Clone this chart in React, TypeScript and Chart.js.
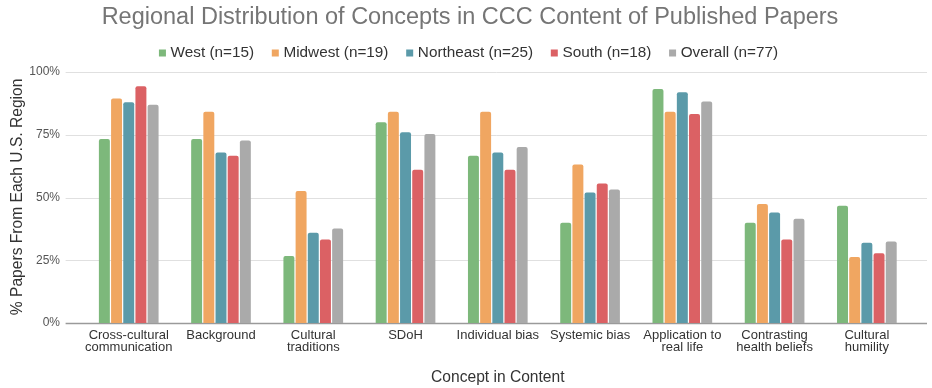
import React, { useEffect, useRef } from "react";
import { Chart, registerables } from "chart.js";

Chart.register(...registerables);

const categories: (string | string[])[] = [
  ["Cross-cultural", "communication"],
  "Background",
  ["Cultural", "traditions"],
  "SDoH",
  "Individual bias",
  "Systemic bias",
  ["Application to", "real life"],
  ["Contrasting", "health beliefs"],
  ["Cultural", "humility"],
];

const west = [73.3, 73.3, 26.7, 80.0, 66.7, 40.0, 93.3, 40.0, 46.7];
const midwest = [89.5, 84.2, 52.6, 84.2, 84.2, 63.2, 84.2, 47.4, 26.3];
const northeast = [88.0, 68.0, 36.0, 76.0, 68.0, 52.0, 92.0, 44.0, 32.0];
const south = [94.4, 66.7, 33.3, 61.1, 61.1, 55.6, 83.3, 33.3, 27.8];
const overall = [87.0, 72.7, 37.7, 75.3, 70.1, 53.2, 88.3, 41.6, 32.5];

const seriesNames = [
  "West (n=15)",
  "Midwest (n=19)",
  "Northeast (n=25)",
  "South (n=18)",
  "Overall (n=77)",
];
const yTicks = [0, 25, 50, 75, 100];

const colors = ["#7db87b", "#f0a661", "#5b9aa9", "#db6164", "#aaaaaa"];
const FONT = "'Liberation Sans', Arial, sans-serif";

const gridPlugin = {
  id: "extGrid",
  beforeDatasetsDraw(chart: any) {
    const { ctx, chartArea, scales } = chart;
    const y = scales.y;
    ctx.save();
    yTicks.forEach((v) => {
      const py = Math.round(y.getPixelForValue(v)) + 0.5;
      ctx.beginPath();
      ctx.strokeStyle = v === 0 ? "#9a9a9a" : "#e0e0e0";
      ctx.lineWidth = v === 0 ? 1.3 : 1;
      ctx.moveTo(chartArea.left - 17, py);
      ctx.lineTo(chartArea.right + 14, py);
      ctx.stroke();
    });
    ctx.restore();
  },
};

export default function App() {
  const ref = useRef<HTMLCanvasElement | null>(null);
  useEffect(() => {
    if (!ref.current) return;
    const data = [west, midwest, northeast, south, overall];
    const chart = new Chart(ref.current, {
      type: "bar",
      data: {
        labels: categories,
        datasets: data.map((d, i) => ({
          label: seriesNames[i],
          data: d,
          backgroundColor: colors[i],
          borderRadius: { topLeft: 2, topRight: 2, bottomLeft: 0, bottomRight: 0 },
          borderSkipped: "bottom",
          barPercentage: 0.9,
          categoryPercentage: 0.66,
        })),
      },
      options: {
        animation: false,
        responsive: false,
        maintainAspectRatio: false,
        layout: { padding: { left: 27, right: 19, top: 0, bottom: 0 } },
        plugins: {
          tooltip: { enabled: false },
          title: {
            display: true,
            text: "Regional Distribution of Concepts in CCC Content of Published Papers",
            color: "#757575",
            font: { family: FONT, size: 23.5, weight: "normal" },
            padding: { top: 3, bottom: 6.25 },
          },
          legend: {
            display: true,
            position: "top",
            labels: {
              color: "#333333",
              font: { family: FONT, size: 15.3 },
              usePointStyle: true,
              pointStyle: "rect",
              boxWidth: 1,
              boxHeight: 7,
              padding: 8,
              generateLabels: (c: any) => {
                const items = Chart.defaults.plugins.legend.labels.generateLabels(c);
                return items.map((it: any, i: number) => ({
                  ...it,
                  lineWidth: 0,
                  text: i < items.length - 1 ? it.text + "   " : it.text,
                }));
              },
            },
          },
        },
        scales: {
          x: {
            grid: { display: false, drawTicks: false },
            border: { display: false },
            afterFit: (s: any) => {
              s.height = 65;
            },
            ticks: {
              color: "#333333",
              font: { family: FONT, size: 13, lineHeight: 0.98 },
              padding: 5.6,
              maxRotation: 0,
              autoSkip: false,
            },
            title: {
              display: true,
              text: "Concept in Content",
              color: "#333333",
              font: { family: FONT, size: 15.6 },
              padding: { top: 0, bottom: 1.4 },
            },
          },
          y: {
            min: 0,
            max: 100.54,
            afterBuildTicks: (s: any) => {
              s.ticks = yTicks.map((v) => ({ value: v }));
            },
            afterFit: (s: any) => {
              s.width = 55.6;
            },
            grid: { display: false, drawTicks: false },
            border: { display: false },
            ticks: {
              color: "#555555",
              font: { family: FONT, size: 12 },
              padding: 22.6,
              callback: (v: any) => v + "%",
            },
            title: {
              display: true,
              text: "% Papers From Each U.S. Region",
              color: "#333333",
              font: { family: FONT, size: 15.6 },
              padding: { top: -19, bottom: 0 },
            },
          },
        },
      },
      plugins: [gridPlugin],
    });
    return () => chart.destroy();
  }, []);
  return (
    <div style={{ position: "fixed", left: 0, top: 0, width: 932, height: 388, background: "#fff" }}>
      <canvas ref={ref} width={932} height={388} style={{ width: 932, height: 388 }} />
    </div>
  );
}
